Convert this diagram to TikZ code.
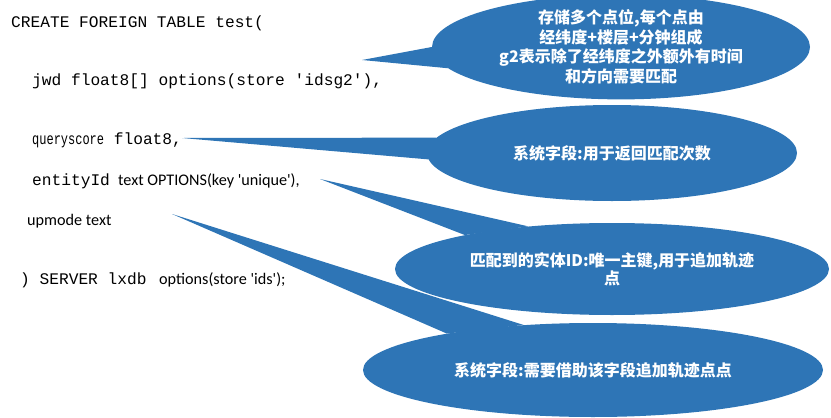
\documentclass[tikz,border=0pt]{standalone}
\usepackage{fontspec}
\usetikzlibrary{shapes.geometric}
\setmainfont{Carlito}[Ligatures=TeXOff]
\setmonofont{Liberation Mono}
\newfontfamily\cjk{Noto Sans CJK SC}
\definecolor{callblue}{RGB}{46,117,182}
\tikzset{
  bubble/.style={ellipse, fill=callblue, draw=none, inner sep=0pt, text=white, align=center,
    font=\cjk\bfseries\fontsize{16}{19.5}\selectfont},
  tail/.style={fill=callblue, draw=none},
  codeline/.style={anchor=base west, inner sep=0pt, font=\fontsize{16.2}{18}\selectfont}
}
\begin{document}
\begin{tikzpicture}[x=1pt,y=-1pt]
\useasboundingbox (0,0) rectangle (831,418);
% code text
\node[codeline] (l1) at (11,27) {\ttfamily CREATE FOREIGN TABLE test(};
\node[codeline] (l2) at (32,85) {\ttfamily jwd float8[] options(store 'idsg2'),};
\node[codeline] (l3) at (32,144) {\ttfamily\scalebox{0.74}[1]{queryscore} float8,};
\node[codeline] (l4) at (32,185) {\ttfamily entityId }; 
\node[codeline] (l4b) at (118,185) {text OPTIONS(key 'unique'),};
\node[codeline] (l5) at (27,225) {upmode text};
\node[codeline] (l6) at (20,284) {\ttfamily ) SERVER lxdb };
\node[codeline] (l6b) at (159,284) {options(store 'ids');};
% tail tips
\coordinate (t1) at (362,60);
\coordinate (t2) at (182,138);
\coordinate (t3) at (320,179);
\coordinate (t4) at (172,214);
% callouts
\node[bubble, minimum width=378pt, minimum height=96pt] (e1) at (621,47)
  {存储多个点位,每个点由\\经纬度+楼层+分钟组成\\g2表示除了经纬度之外额外有时间\\和方向需要匹配};
\node[bubble, minimum width=370pt, minimum height=96pt] (e2) at (612,153)
  {系统字段:用于返回匹配次数};
\node[bubble, minimum width=434pt, minimum height=92pt, font=\cjk\bfseries\fontsize{16}{18}\selectfont] (e3) at (612,269)
  {匹配到的实体ID:唯一主键,用于追加轨迹\\点};
\node[bubble, minimum width=460pt, minimum height=94pt] (e4) at (593,370)
  {系统字段:需要借助该字段追加轨迹点点};
% tails
\fill[tail] (e1.180) -- (t1) -- (e1.187) -- cycle;
\fill[tail] (e2.175) -- (t2) -- (e2.182) -- cycle;
\fill[tail] (e3.153) -- (t3) -- (e3.167) -- cycle;
\fill[tail] (e4.147) -- (t4) -- (e4.166) -- cycle;
\end{tikzpicture}
\end{document}
